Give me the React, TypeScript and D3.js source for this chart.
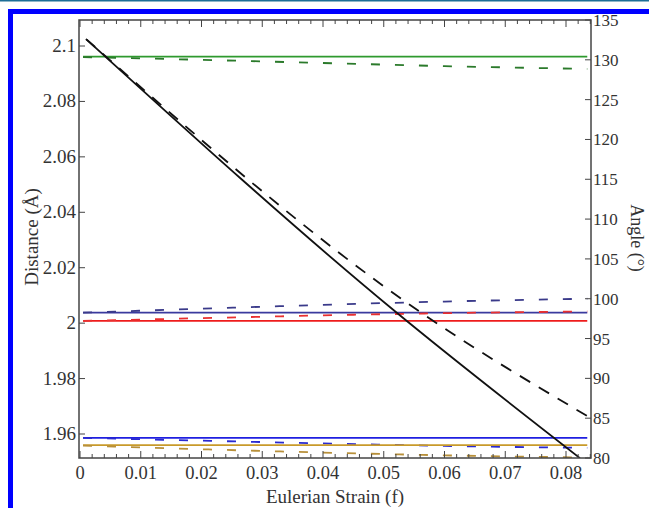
import React from 'react';
import * as d3 from 'd3';

// strain sample points (Eulerian strain f)
const strain = [0.0005, 0.02, 0.04, 0.06, 0.0835];

// distances (Å), left axis
const purpleSolid = [2.0038, 2.0038, 2.0038, 2.0038, 2.0038];
const purpleDashed = [2.0038, 2.0052, 2.0066, 2.0078, 2.0088];
const redSolid = [2.0008, 2.0008, 2.0008, 2.0008, 2.0008];
const redDashed = [2.0008, 2.0018, 2.0028, 2.0036, 2.0042];
const blueSolid = [1.9586, 1.9586, 1.9586, 1.9586, 1.9586];
const blueDashed = [1.9586, 1.9576, 1.9566, 1.9557, 1.955];
const goldSolid = [1.956, 1.956, 1.956, 1.956, 1.956];
const goldDashed = [1.9558, 1.9545, 1.9533, 1.9523, 1.9515];

// black lines, left axis
const blackStrain = [0.001, 0.052, 0.0823];
const blackSolid = [2.1025, 2.004, 1.9513];
const blackDashedStrain = [0.001, 0.056, 0.0835];
const blackDashed = [2.1025, 2.004, 1.9665];

// angles (°), right axis
const greenSolid = [130.4, 130.4, 130.4, 130.4, 130.4];
const greenDashed = [130.35, 130.0, 129.6, 129.2, 128.85];

const xTicks = [0, 0.01, 0.02, 0.03, 0.04, 0.05, 0.06, 0.07, 0.08];
const yLeftTicks = [1.96, 1.98, 2, 2.02, 2.04, 2.06, 2.08, 2.1];
const yRightTicks = [80, 85, 90, 95, 100, 105, 110, 115, 120, 125, 130, 135];

const W = 649;
const H = 508;
const L = 79, R = 591, T = 20, B = 458;
const axisColor = '#444';
const textColor = '#333';
const font = '"Liberation Serif", "Times New Roman", serif';

export default function App() {
  const x = d3.scaleLinear().domain([0, 0.08]).range([80, 566]);
  const yL = d3.scaleLinear().domain([1.96, 2.1]).range([434, 46]);
  const yR = d3.scaleLinear().domain([80, 135]).range([B, T]);

  const lineL = (xs: number[], ys: number[]) =>
    d3.line<number>().x((_, i) => x(xs[i])).y(d => yL(d)).curve(d3.curveMonotoneX)(ys) || '';
  const lineR = (xs: number[], ys: number[]) =>
    d3.line<number>().x((_, i) => x(xs[i])).y(d => yR(d))(ys) || '';

  const minorX = d3.range(0, 0.0841, 0.002);

  const dash = '9,15';
  const series = [
    { d: lineR(strain, greenSolid), c: '#2e9a2e', dash: null },
    { d: lineR(strain, greenDashed), c: '#2b7a2b', dash },
    { d: lineL(strain, purpleSolid), c: '#3a3a9e', dash: null },
    { d: lineL(strain, purpleDashed), c: '#3a3a8a', dash },
    { d: lineL(strain, redSolid), c: '#ee1c1c', dash: null },
    { d: lineL(strain, redDashed), c: '#e83030', dash },
    { d: lineL(strain, blueSolid), c: '#1f1fe0', dash: null },
    { d: lineL(strain, blueDashed), c: '#2a2ad0', dash },
    { d: lineL(strain, goldSolid), c: '#c89a2a', dash: null },
    { d: lineL(strain, goldDashed), c: '#b8903a', dash },
    { d: lineL(blackStrain, blackSolid), c: '#111', dash: null },
    { d: lineL(blackDashedStrain, blackDashed), c: '#111', dash: '12,10' },
  ];

  return (
    <svg width={W} height={H} style={{ position: 'absolute', left: 0, top: 0, background: '#fff' }}>
      <rect x={0} y={0} width={W} height={H} fill="#fff" />
      <line x1={0} x2={W} y1={0.5} y2={0.5} stroke="#1d6e96" strokeWidth={2} />
      <rect x={10.5} y={11.5} width={W + 20} height={H + 20} fill="none" stroke="#0000ff" strokeWidth={5} />

      <defs>
        <clipPath id="plot">
          <rect x={L} y={T} width={R - L} height={B - T} />
        </clipPath>
      </defs>

      <g clipPath="url(#plot)" fill="none">
        {series.map((s, i) => (
          <path key={i} d={s.d} stroke={s.c} strokeWidth={1.8} strokeDasharray={s.dash || undefined} />
        ))}
      </g>

      {/* frame */}
      <rect x={L} y={T} width={R - L} height={B - T} fill="none" stroke={axisColor} strokeWidth={1.5} />

      {/* x ticks bottom & top */}
      {minorX.map((v, i) => {
        const major = i % 5 === 0;
        const len = major ? 7 : 4;
        return (
          <g key={i} stroke={axisColor} strokeWidth={1}>
            <line x1={x(v)} x2={x(v)} y1={B} y2={B - len} />
            <line x1={x(v)} x2={x(v)} y1={T} y2={T + len} />
          </g>
        );
      })}
      {xTicks.map(v => (
        <text key={v} x={x(v)} y={479} textAnchor="middle" fontFamily={font} fontSize={18.5} fill={textColor}>
          {+v.toFixed(2)}
        </text>
      ))}

      {/* left ticks */}
      {yLeftTicks.map(v => (
        <g key={v}>
          <line x1={L} x2={L + 6} y1={yL(v)} y2={yL(v)} stroke={axisColor} strokeWidth={1} />
          <text x={L - 3} y={yL(v) + 6} textAnchor="end" fontFamily={font} fontSize={19} fill={textColor}>
            {+v.toFixed(2)}
          </text>
        </g>
      ))}

      {/* right ticks */}
      {yRightTicks.map(v => (
        <g key={v}>
          <line x1={R} x2={R - 6} y1={yR(v)} y2={yR(v)} stroke={axisColor} strokeWidth={1} />
          <text x={R + 2} y={yR(v) + 6} textAnchor="start" fontFamily={font} fontSize={17} fill={textColor}>
            {v}
          </text>
        </g>
      ))}

      <text transform="translate(38,237) rotate(-90)" textAnchor="middle" fontFamily={font} fontSize={19} fill={textColor}>
        Distance (Å)
      </text>
      <text transform="translate(631,238) rotate(90)" textAnchor="middle" fontFamily={font} fontSize={18} fill={textColor}>
        Angle (°)
      </text>
      <text x={335} y={503} textAnchor="middle" fontFamily={font} fontSize={19} fill={textColor}>
        Eulerian Strain (f)
      </text>
    </svg>
  );
}
